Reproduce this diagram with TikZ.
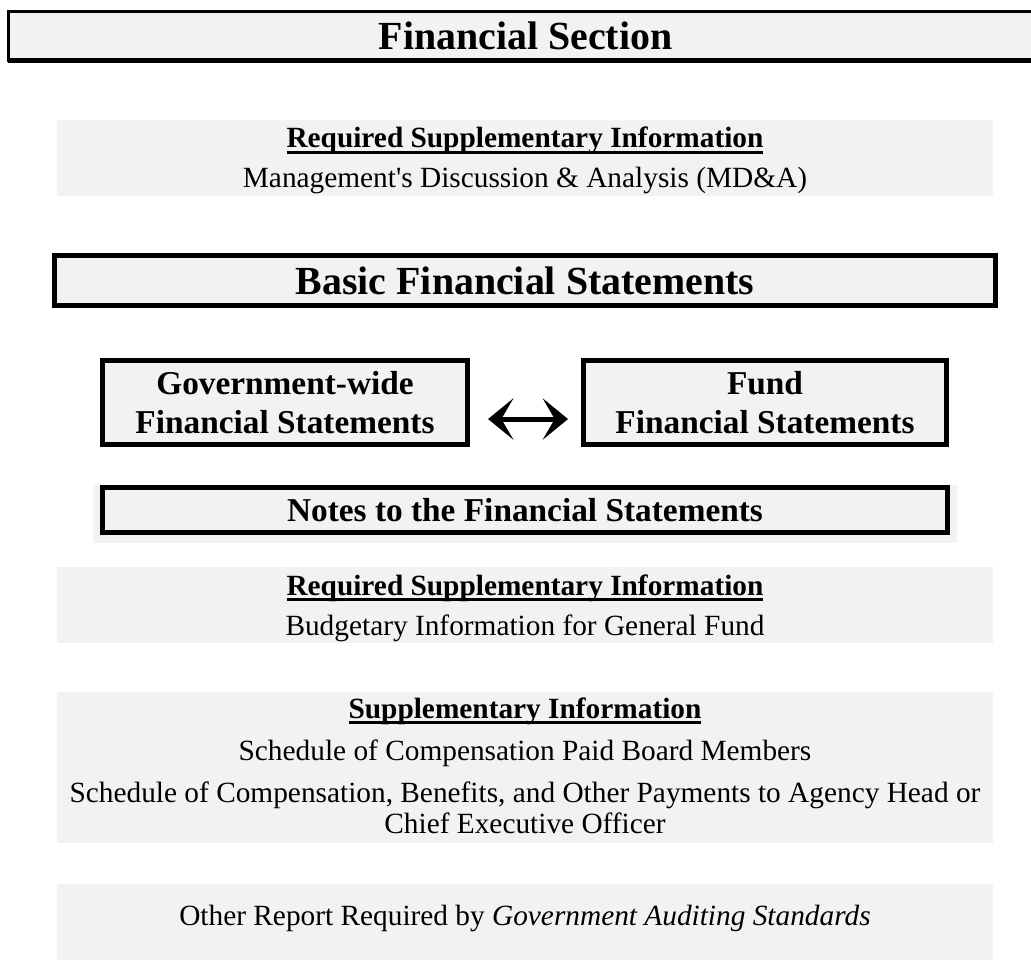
\documentclass[tikz,border=0pt]{standalone}
\usepackage{fontspec}
\setmainfont{Liberation Serif}
\usetikzlibrary{arrows.meta}
\definecolor{panelgray}{RGB}{242,242,242}
\newcommand{\ulhead}[1]{\setbox0\hbox{#1}\rlap{\vrule width\wd0 height -2.3pt depth 4.5pt}\box0}
\tikzset{panel/.style={fill=panelgray, inner sep=0pt, outer sep=0pt},
frame/.style={panel, draw=black, line width=3.75pt},
%text sizes
bigtxt/.style={font=\bfseries\fontsize{29.9}{34}\selectfont},
midtxt/.style={font=\bfseries\fontsize{25}{29.25}\selectfont, align=center},
linetxt/.style={font=\fontsize{22}{26}\selectfont, anchor=base, inner sep=0pt},
bothway/.style={{Stealth[length=19pt,width=31pt,inset=9pt]}-{Stealth[length=19pt,width=31pt,inset=9pt]}, line width=3.75pt}}

\begin{document}
\begin{tikzpicture}[x=0.75pt, y=-0.75pt]

    \useasboundingbox (0,0) rectangle (1031,963);

    \coordinate (mid) at (525, 0);

    % top banner
    \node[frame, line width=2.25pt, minimum width=776.25pt, minimum height=37.1pt, bigtxt] (title) at (525.5, 35.75) {Financial Section};
    \draw[line width=3.75pt] (title.south west) -- (title.south east);

    % gray panels
    \node[panel, minimum width=702pt, minimum height=57pt] (rsitop) at (525, 158) {};
    \node[panel, minimum width=648pt, minimum height=43.5pt] (notesbg) at (525, 514) {};
    \node[panel, minimum width=702pt, minimum height=57pt] (rsibot) at (525, 605) {};
    \node[panel, minimum width=702pt, minimum height=113.25pt] (supp) at (525, 767.5) {};
    \node[panel, minimum width=702pt, minimum height=57pt] (other) at (525, 922) {};

    % framed boxes
    \node[frame, minimum width=705.75pt, minimum height=37.5pt, bigtxt] (basic) at (525, 280.5) {Basic Financial Statements};
    \node[frame, minimum width=273.75pt, minimum height=63pt, midtxt] (gov) at (285, 402.5) {Government-wide\\Financial Statements};
    \node[frame, minimum width=272.25pt, minimum height=63pt, midtxt] (fund) at (765, 402.5) {Fund\\Financial Statements};
    \node[frame, minimum width=633.75pt, minimum height=33.75pt, midtxt] (notes) at (525, 510) {Notes to the Financial Statements};

    \draw[bothway, shorten <=15.4pt, shorten >=11.6pt] ([yshift=-12.4pt]gov.east) -- ([yshift=-12.4pt]fund.west);

    % panel texts
    \node[linetxt] (rsitophead) at (525, 148) {\bfseries\ulhead{Required Supplementary Information}};
    \node[linetxt] (rsitopline) at (525, 188) {Management\textquotesingle s Discussion \& Analysis (MD\&A)};

    \node[linetxt] (rsibothead) at (525, 595) {\bfseries\ulhead{Required Supplementary Information}};
    \node[linetxt] (rsibotline) at (525, 635) {Budgetary Information for General Fund};

    \node[linetxt] (supphead) at (525, 718) {\bfseries\ulhead{Supplementary Information}};
    \node[linetxt] (suppa) at (525, 760) {Schedule of Compensation Paid Board Members};
    \node[linetxt] (suppb) at (525, 802) {Schedule of Compensation, Benefits, and Other Payments to Agency Head or};
    \node[linetxt] (suppc) at (525, 833) {Chief Executive Officer};

    \node[linetxt] (otherline) at (525, 925) {Other Report Required by \textit{Government Auditing Standards}};

\end{tikzpicture}
\end{document}
